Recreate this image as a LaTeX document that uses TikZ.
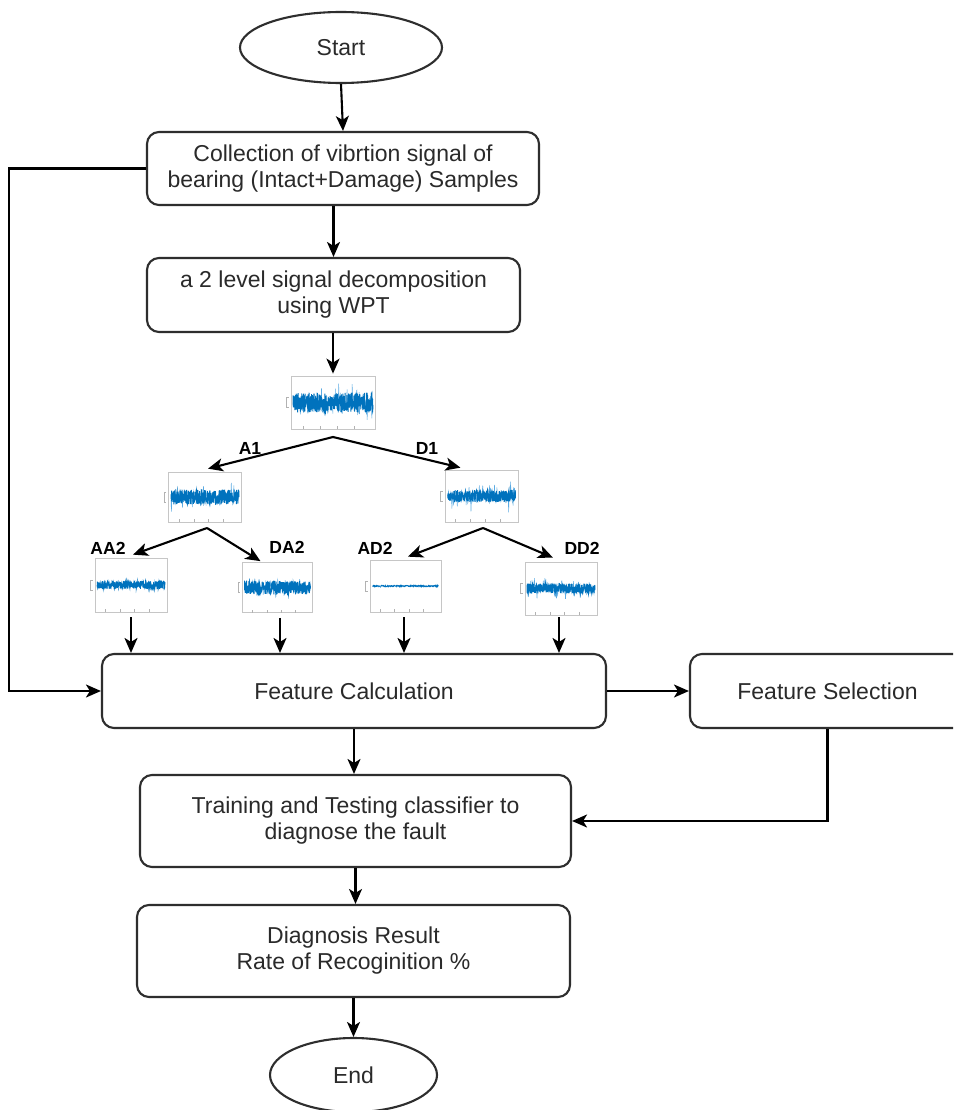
\documentclass[tikz,border=0pt]{standalone}
\usepackage{fontspec}
\setmainfont{Liberation Sans}
\usetikzlibrary{arrows.meta,calc,shapes.geometric}
\definecolor{sigdark}{HTML}{0072BD}
\definecolor{siglight}{HTML}{5AAAE2}
\definecolor{txt}{HTML}{2A2A2A}
\definecolor{edge}{HTML}{2E2E2E}
\tikzset{
 box/.style={draw=edge, line width=2.1pt, rounded corners=12pt, align=center, inner sep=0pt, text=txt, font=\fontsize{23}{26}\selectfont},
 term/.style={ellipse, draw=edge, line width=2.1pt, inner sep=0pt, text=txt, font=\fontsize{23}{26}\selectfont},
 arr/.style={draw=black, line width=2.1pt, -{Stealth[length=15pt,width=13pt,inset=4pt]}},
 plotbox/.style={draw=gray!45, line width=0.7pt, inner sep=0pt, fill=white},
 blab/.style={font=\bfseries\fontsize{17.5}{20}\selectfont, text=black, inner sep=0pt},
 sigd/.style={draw=sigdark, line width=0.9pt},
 sigl/.style={draw=siglight, line width=0.5pt},
 tick/.style={draw=gray!60, line width=0.6pt},
}
% #1 node, #2 half width, #3 band amplitude, #4 spike amplitude, #5 band samples, #6 spike samples
\newcommand{\mysig}[6]{%
  \begin{scope}[shift={(#1.center)}]
    \draw[sigl] plot[domain=-#2:#2, samples=#6] (\x,{#4*rand*rand*rand});
    \draw[sigd] plot[domain=-#2:#2, samples=#5] (\x,{#3*rand});
  \end{scope}%
  \foreach \t in {0.15,0.35,0.55,0.75}{
    \draw[tick] ($(#1.south west)!\t!(#1.south east)$) -- ++(0,-3);}
  \draw[tick] ($(#1.west)+(-2,-5)$) -- ++(-2,0) -- ++(0,10) -- ++(2,0);
}
\begin{document}
\begin{tikzpicture}[x=1pt,y=-1pt]
\useasboundingbox (0,0) rectangle (953,1110);
\clip (0,0) rectangle (953,1110);
\fill[white] (0,0) rectangle (953,1110);
\pgfmathsetseed{4242}

% main flow
\node[term, minimum width=202pt, minimum height=71pt] (start) at (341,47.5) {Start};
\node[box, minimum width=392pt, minimum height=73pt] (coll) at (343,168.5)
  {Collection of vibrtion signal of\\bearing (Intact+Damage) Samples};
\node[box, minimum width=373pt, minimum height=74pt] (decomp) at (333.5,295)
  {a 2 level signal decomposition\\using WPT};
\node[box, minimum width=504pt, minimum height=74pt] (fc) at (354,691) {Feature Calculation};
\node[box, minimum width=275pt, minimum height=74pt] (fs) at (827.5,691) {Feature Selection};
\node[box, minimum width=431pt, minimum height=92pt] (train) at (355.5,821)
  {Training and Testing classifier to\\diagnose the fault};
\node[box, minimum width=433pt, minimum height=92pt] (diag) at (353.5,951)
  {Diagnosis Result\\Rate of Recoginition \%};
\node[term, minimum width=167pt, minimum height=74pt] (endn) at (353.5,1075) {End};

% signal plots
\node[plotbox, minimum width=84pt, minimum height=53pt] (p0) at (333,402.5) {};
\node[plotbox, minimum width=73pt, minimum height=50pt] (pa1) at (205,497) {};
\node[plotbox, minimum width=73pt, minimum height=52pt] (pd1) at (481.5,496) {};
\node[plotbox, minimum width=72pt, minimum height=54pt] (paa2) at (131,585) {};
\node[plotbox, minimum width=70pt, minimum height=50pt] (pda2) at (277.5,587.5) {};
\node[plotbox, minimum width=71pt, minimum height=52pt] (pad2) at (405.5,586) {};
\node[plotbox, minimum width=72pt, minimum height=53pt] (pdd2) at (561,588.5) {};

\mysig{p0}{40}{10}{24}{420}{220}
\mysig{pa1}{34}{7.5}{20}{340}{160}
\mysig{pd1}{34}{6}{22}{340}{140}
\mysig{paa2}{34}{4}{8}{320}{140}
\mysig{pda2}{33}{7}{12}{340}{160}
\mysig{pad2}{33}{0.8}{1.6}{140}{60}
\mysig{pdd2}{34}{5}{20}{320}{130}

% branch labels
\node[blab] (la1) at (250,448) {A1};
\node[blab] (ld1) at (427,448) {D1};
\node[blab] (laa2) at (108,548) {AA2};
\node[blab] (lda2) at (287,547) {DA2};
\node[blab] (lad2) at (375,548) {AD2};
\node[blab] (ldd2) at (582,548) {DD2};

% branch points
\coordinate (b0) at (333,437);
\coordinate (b1) at (207,528);
\coordinate (b2) at (483,528);
\coordinate (lft) at (9,400);

% connectors
\draw[arr] (start.south) -- (coll.north);
\draw[arr] (coll.south -| decomp) -- (decomp.north);
\draw[arr] (decomp.south -| p0) -- ($(p0.north)+(0,-2)$);
\draw[arr] (b0) -- ($(pa1.north)+(3,-3)$);
\draw[arr] (b0) -- ($(pd1.north)+(-21,-2)$);
\draw[arr] (b1) -- ($(paa2.north)+(2,-3)$);
\draw[arr] (b1) -- ($(pda2.north)+(-17,-1)$);
\draw[arr] (b2) -- ($(pad2.north)+(2.5,-3)$);
\draw[arr] (b2) -- ($(pdd2.north)+(-8,-4)$);
\draw[arr] ($(paa2.south)+(0,5)$) -- (paa2.south |- fc.north);
\draw[arr] ($(pda2.south)+(2.5,5)$) -- ($(pda2.south |- fc.north)+(2.5,0)$);
\draw[arr] ($(pad2.south)+(-1.5,5)$) -- ($(pad2.south |- fc.north)+(-1.5,0)$);
\draw[arr] ($(pdd2.south)+(-2,2)$) -- ($(pdd2.south |- fc.north)+(-2,0)$);
\draw[arr] (coll.west) -- (coll.west -| lft) -- (lft |- fc.west) -- (fc.west);
\draw[arr] (fc.east) -- (fs.west);
\draw[arr] (fs.south) |- (train.east);
\draw[arr] (fc.south) -- (fc.south |- train.north);
\draw[arr] (train.south) -- (train.south |- diag.north);
\draw[arr] (diag.south) -- (diag.south |- endn.north);
\end{tikzpicture}
\end{document}
